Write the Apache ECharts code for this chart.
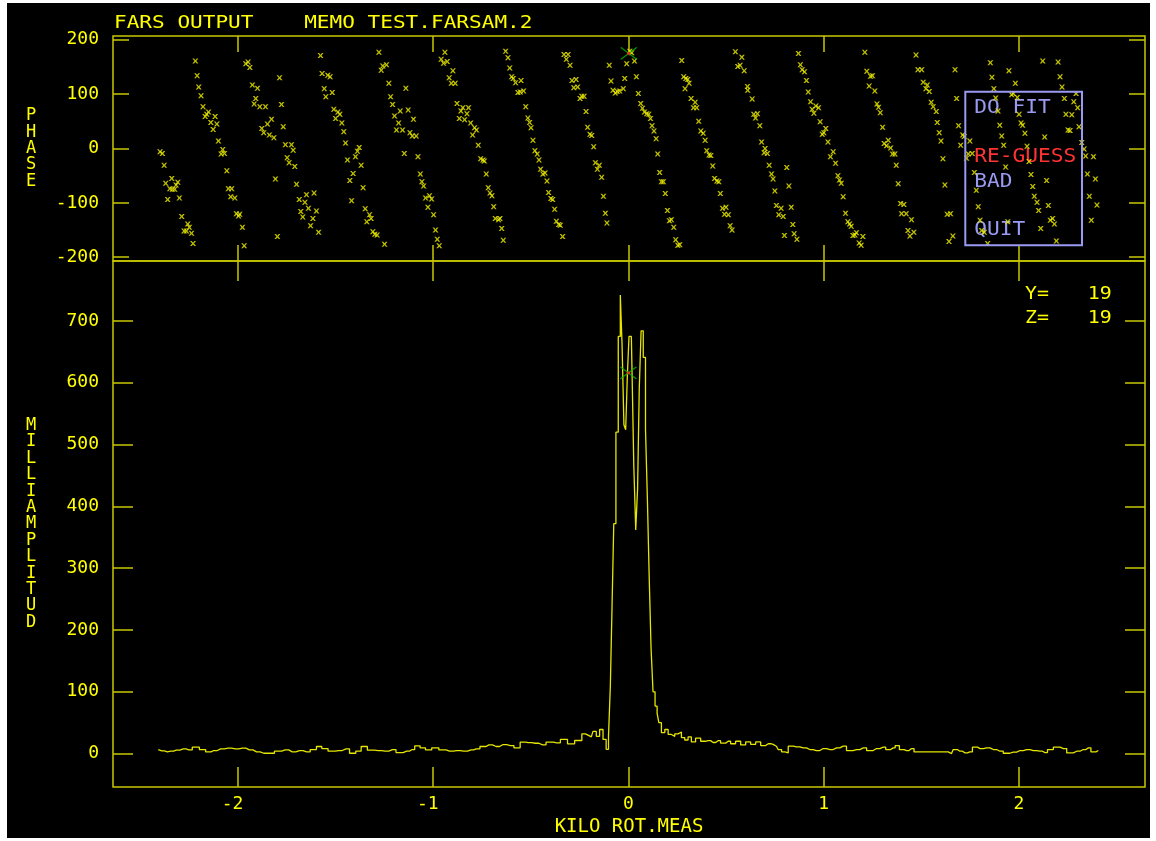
<!DOCTYPE html>
<html><head><meta charset="utf-8">
<script src="https://cdn.jsdelivr.net/npm/echarts@6/dist/echarts.min.js"></script>
<style>
html,body{margin:0;padding:0;background:#fff;width:1156px;height:841px;overflow:hidden}
#c{position:absolute;left:7px;top:3px;width:1143px;height:835px;background:#000}
</style>
</head><body><div id="c"></div>
<script>
// ---------- data ----------
const kiloTicks = [-2, -1, 0, 1, 2];
const phaseTicks = [-200, -100, 0, 100, 200];
const ampTicks = [0, 100, 200, 300, 400, 500, 600, 700];
const kiloRange = [-2.64, 2.646];
const phaseRange = [-207, 207];
const ampRange = [-54, 797];

const titleText = 'FARS OUTPUT    MEMO TEST.FARSAM.2';
const xName = 'KILO ROT.MEAS';
const phaseName = 'PHASE';
const ampName = 'MILLIAMPLITUD';
const menuItems = ['DO FIT', 'RE-GUESS', 'BAD', 'QUIT'];
const readouts = [['Y=', '19'], ['Z=', '19']];

// guess markers [kilo, value]
const guessPhase = [[0.002, 175]];
const guessAmp = [[0.0, 616]];

// phase samples [kilo rot.meas, phase]
const phaseSamples = [
[-2.399,-6],[-2.387,-9],[-2.378,-31],[-2.339,-55],[-2.370,-64],[-2.308,-62],[-2.317,-67],[-2.349,-74],[-2.336,-75],[-2.324,-75],[-2.360,-94],[-2.300,-91],[-2.288,-125],[-2.257,-139],[-2.249,-145],[-2.276,-152],[-2.264,-152],[-2.238,-156],[-2.230,-175],
[-2.218,161],[-2.209,134],[-2.201,113],[-2.189,97],[-2.179,77],[-2.151,67],[-2.160,63],[-2.168,59],[-2.117,59],[-2.139,48],[-2.108,45],[-2.127,35],[-2.100,14],[-2.078,-2],[-2.086,-10],[-2.069,-9],[-2.057,-41],[-2.049,-74],[-2.032,-74],[-2.037,-89],[-2.016,-91],[-2.008,-120],[-1.991,-121],[-1.997,-124],[-1.977,-145],[-1.968,-179],
[-1.960,156],[-1.948,159],[-1.939,149],[-1.787,130],[-1.926,117],[-1.900,111],[-1.909,92],[-1.917,82],[-1.888,77],[-1.859,77],[-1.777,81],[-1.828,54],[-1.849,45],[-1.768,40],[-1.878,37],[-1.868,29],[-1.839,25],[-1.816,20],[-1.757,7],[-1.726,7],[-1.717,-3],[-1.748,-17],[-1.738,-26],[-1.709,-33],[-1.808,-56],[-1.700,-66],[-1.649,-85],[-1.610,-82],[-1.686,-94],[-1.657,-99],[-1.639,-110],[-1.598,-115],[-1.678,-116],[-1.668,-126],[-1.616,-129],[-1.628,-142],[-1.587,-154],[-1.798,-162],
[-1.577,171],[-1.569,138],[-1.540,135],[-1.528,132],[-1.558,110],[-1.550,95],[-1.517,103],[-1.509,72],[-1.488,67],[-1.478,63],[-1.500,55],[-1.468,47],[-1.458,31],[-1.449,10],[-1.379,2],[-1.388,-5],[-1.398,-15],[-1.439,-21],[-1.369,-31],[-1.410,-46],[-1.427,-59],[-1.359,-72],[-1.418,-96],[-1.348,-111],[-1.326,-122],[-1.318,-129],[-1.340,-135],[-1.309,-153],[-1.299,-158],[-1.287,-159],[-1.249,-176],
[-1.278,177],[-1.258,152],[-1.239,154],[-1.266,144],[-1.227,120],[-1.140,111],[-1.218,95],[-1.208,81],[-1.128,71],[-1.169,69],[-1.198,60],[-1.101,54],[-1.177,47],[-1.188,34],[-1.157,34],[-1.119,29],[-1.107,23],[-1.087,23],[-1.148,-9],[-1.078,-15],[-1.066,-47],[-1.058,-61],[-1.049,-69],[-1.019,-87],[-1.039,-91],[-1.008,-93],[-1.027,-108],[-0.998,-122],[-0.988,-150],[-0.979,-167],[-0.969,-179],
[-0.940,177],[-0.959,164],[-0.947,157],[-0.928,160],[-0.899,143],[-0.918,130],[-0.907,120],[-0.887,120],[-0.878,83],[-0.848,75],[-0.819,75],[-0.858,69],[-0.827,64],[-0.866,55],[-0.839,53],[-0.808,47],[-0.788,38],[-0.778,34],[-0.798,25],[-0.769,6],[-0.757,-19],[-0.745,-21],[-0.738,-23],[-0.728,-47],[-0.718,-72],[-0.709,-82],[-0.699,-87],[-0.690,-107],[-0.682,-129],[-0.665,-131],[-0.658,-129],[-0.649,-147],[-0.641,-169],
[-0.629,179],[-0.617,167],[-0.608,148],[-0.598,132],[-0.590,129],[-0.578,121],[-0.550,125],[-0.566,103],[-0.554,104],[-0.537,106],[-0.526,77],[-0.515,56],[-0.506,48],[-0.499,38],[-0.489,15],[-0.479,-4],[-0.467,-10],[-0.458,-21],[-0.450,-38],[-0.438,-47],[-0.427,-45],[-0.417,-60],[-0.409,-81],[-0.397,-92],[-0.388,-94],[-0.378,-112],[-0.369,-134],[-0.357,-140],[-0.349,-141],[-0.337,-162],
[-0.330,173],[-0.309,173],[-0.318,164],[-0.299,153],[-0.289,125],[-0.268,127],[-0.280,112],[-0.260,113],[-0.248,92],[-0.239,96],[-0.227,96],[-0.217,68],[-0.209,39],[-0.197,26],[-0.188,24],[-0.178,3],[-0.169,-26],[-0.149,-31],[-0.159,-38],[-0.137,-53],[-0.128,-88],[-0.118,-119],[-0.110,-137],
[-0.098,153],[-0.089,124],[-0.079,107],[-0.067,102],[-0.057,105],[-0.045,106],[-0.026,110],[-0.019,129],[-0.009,156],[0.007,179],[0.017,176],[0.031,161],[0.041,132],[0.051,101],[0.063,83],[0.072,74],[0.082,67],[0.094,64],[0.104,63],[0.113,55],[0.121,42],[0.131,32],[0.142,18],[0.150,-10],[0.160,-44],[0.169,-61],[0.179,-61],[0.189,-83],[0.200,-114],[0.210,-133],[0.220,-131],[0.232,-145],[0.242,-168],[0.253,-178],[0.263,-177],
[0.273,162],[0.283,132],[0.294,129],[0.304,127],[0.311,120],[0.290,110],[0.321,92],[0.342,85],[0.333,75],[0.350,75],[0.360,50],[0.371,32],[0.383,28],[0.393,15],[0.401,-4],[0.413,-12],[0.422,-13],[0.432,-32],[0.441,-55],[0.453,-60],[0.463,-61],[0.471,-83],[0.482,-110],[0.500,-108],[0.492,-121],[0.512,-122],[0.521,-142],[0.531,-150],
[0.548,178],[0.581,168],[0.560,151],[0.572,153],[0.593,143],[0.610,114],[0.611,107],[0.634,91],[0.642,63],[0.661,64],[0.651,56],[0.673,42],[0.682,12],[0.700,0],[0.695,-8],[0.712,-9],[0.721,-31],[0.733,-47],[0.741,-56],[0.750,-78],[0.758,-105],[0.782,-110],[0.770,-122],[0.793,-125],[0.811,-35],[0.822,-69],[0.834,-108],[0.842,-140],[0.849,-157],[0.863,-167],[0.799,-160],
[0.871,175],[0.881,154],[0.890,145],[0.902,141],[0.912,125],[0.921,104],[0.933,86],[0.960,78],[0.974,75],[0.941,72],[0.950,65],[0.982,49],[1.011,37],[1.001,29],[0.993,26],[1.022,12],[1.049,-6],[1.035,-15],[1.061,-27],[1.073,-50],[1.081,-58],[1.090,-64],[1.100,-89],[1.112,-119],[1.124,-135],[1.133,-139],[1.141,-143],[1.150,-160],[1.160,-159],[1.168,-155],[1.182,-174],[1.192,-178],[1.201,-162],
[1.211,177],[1.221,142],[1.240,133],[1.250,134],[1.233,115],[1.262,106],[1.273,82],[1.281,76],[1.290,66],[1.302,39],[1.331,15],[1.310,9],[1.322,5],[1.343,1],[1.353,-10],[1.365,-10],[1.372,-31],[1.382,-65],[1.394,-101],[1.411,-103],[1.399,-120],[1.423,-120],[1.450,-131],[1.432,-151],[1.462,-154],[1.442,-161],
[1.473,172],[1.483,145],[1.502,145],[1.510,122],[1.531,117],[1.524,110],[1.541,105],[1.551,85],[1.561,77],[1.577,68],[1.582,48],[1.592,29],[1.601,14],[1.611,-19],[1.621,-67],[1.633,-121],[1.650,-120],[1.642,-171],[1.662,-161],
[1.673,145],[1.681,92],[1.691,42],[1.702,6],[1.712,25],[1.720,22],[1.749,14],[1.741,-10],[1.761,-9],[1.732,-18],[1.772,-44],[1.782,-77],[1.792,-107],[1.801,-132],[1.809,-151],[1.823,-154],[1.840,-175],
[1.854,158],[1.862,131],[1.872,110],[1.881,93],[1.893,69],[1.902,43],[1.912,23],[1.922,6],[1.932,-34],[1.943,-135],[1.949,143],[1.982,120],[1.963,99],[1.972,101],[1.992,94],[2.001,63],[2.011,47],[2.019,43],[2.031,28],[2.042,4],[2.052,-24],[2.062,-48],[2.071,-70],[2.079,-88],[2.093,-99],[2.101,-114],[2.112,-147],
[2.122,161],[2.132,21],[2.142,-59],[2.151,-105],[2.161,-132],[2.173,-129],[2.182,-139],[2.192,-170],[2.201,159],[2.211,132],[2.221,113],[2.233,92],[2.241,63],[2.252,34],[2.262,33],[2.271,62],[2.281,86],[2.293,101],[2.301,75],[2.308,40],[2.322,11],[2.334,-1],[2.342,-14],[2.382,-15],[2.351,-47],[2.392,-56],[2.361,-88],[2.400,-104],[2.371,-132]
];

// amplitude samples [kilo rot.meas, milliamplitude]
const ampSamples = [
[-2.408,6.6],[-2.390,4.5],[-2.362,3],[-2.344,4],[-2.316,5.5],[-2.280,7.7],[-2.252,6],[-2.216,10.4],[-2.179,6.6],[-2.152,2.8],[-2.124,5],[-2.088,7.7],[-2.051,8.8],[-2.014,7.7],[-1.978,8.8],[-1.941,6],[-1.905,2.8],[-1.868,0.6],[-1.831,0.6],[-1.795,3.9],[-1.758,6],[-1.722,2.8],[-1.685,5],[-1.648,2.8],[-1.612,6.6],[-1.584,11.5],[-1.557,8.2],[-1.520,3.9],[-1.484,5],[-1.447,7.7],[-1.410,0.6],[-1.383,3.9],[-1.355,11.5],[-1.319,5.5],[-1.282,5],[-1.246,3.9],[-1.209,6.6],[-1.172,1.7],[-1.136,3.9],[-1.108,6.6],[-1.081,12.6],[-1.053,9.3],[-1.026,6],[-0.989,9.3],[-0.953,6],[-0.916,3.9],[-0.880,5],[-0.843,3.9],[-0.806,6],[-0.779,7.7],[-0.742,11.5],[-0.715,14.2],[-0.678,11.5],[-0.642,14.7],[-0.605,13.1],[-0.568,9.3],[-0.541,18.5],[-0.513,17.9],[-0.477,16.8],[-0.440,14.2],[-0.404,18.5],[-0.367,17.4],[-0.330,22.9],[-0.294,15.8],[-0.257,21.2],
[-0.220,32],[-0.207,30],[-0.190,27],[-0.173,36],[-0.156,28],[-0.139,39],[-0.121,23],[-0.107,7],[-0.097,28],[-0.088,110],[-0.080,236],[-0.070,372],[-0.058,520],[-0.046,675],[-0.037,742],[-0.028,661],[-0.018,532],[-0.010,524],[-0.001,611],[0.007,675],[0.015,675],[0.023,610],[0.032,467],[0.043,362],[0.051,429],[0.060,590],[0.070,684],[0.082,641],[0.093,525],[0.102,408],[0.111,285],[0.121,171],[0.131,100],[0.142,77],[0.152,65],
[0.160,50],[0.178,34],[0.195,39],[0.212,31],[0.229,28],[0.246,32],[0.263,35],[0.280,26],[0.297,22],[0.314,27],[0.331,19],[0.357,25],[0.383,20],[0.408,21],[0.434,18],[0.459,21],[0.485,17],[0.511,20],[0.536,16],[0.562,20],[0.588,14],[0.613,19],[0.639,15],[0.665,19],[0.690,13],[0.716,16],[0.741,15],[0.758,12],[0.776,6.6],[0.793,2.8],[0.810,1.2],[0.827,12],[0.861,11],[0.895,9.3],[0.929,6.6],[0.963,5],[0.998,8.2],[1.032,6.6],[1.066,9.3],[1.100,12],[1.134,5],[1.168,6.6],[1.203,9.3],[1.237,5],[1.271,8.2],[1.305,10.4],[1.331,6.6],[1.356,9.3],[1.377,13],[1.399,6.6],[1.425,5],[1.450,8.2],[1.476,2.8],[1.638,2.8],[1.655,0.1],[1.672,6.6],[1.698,3.9],[1.724,1.2],[1.749,2.8],[1.775,10.4],[1.801,8.2],[1.835,9.3],[1.869,6.6],[1.903,3.9],[1.937,0.6],[1.971,2.3],[2.006,5],[2.040,6.6],[2.074,5],[2.108,3.9],[2.134,1.7],[2.159,6.6],[2.194,10.4],[2.228,8.2],[2.262,1.2],[2.296,3.9],[2.330,6.6],[2.356,9.3],[2.382,2.8],[2.407,5]
];

// ---------- style ----------
const FONT = '"DejaVu Sans Mono", "Liberation Mono", monospace';
const TXT = '#ffff00';
const FRAME = '#c8c800';
const LAV = '#9a9af2';

const chart = echarts.init(document.getElementById('c'), null, {renderer: 'canvas'});

function xAx(grid, pos, labels, tickLen) {
  const a = {
    type: 'value', gridIndex: grid, position: pos,
    min: kiloRange[0], max: kiloRange[1],
    axisLine: {show: false, onZero: false},
    splitLine: {show: false},
    axisTick: {show: true, inside: true, length: tickLen, customValues: kiloTicks,
               lineStyle: {color: FRAME, width: 1.5}},
    axisLabel: {show: labels, customValues: kiloTicks, margin: 8, color: TXT,
                fontFamily: FONT, fontSize: 18,
                formatter: v => (v < 0 ? v + ' ' : '' + v)}
  };
  if (labels) {
    a.name = xName; a.nameLocation = 'middle'; a.nameGap = 27;
    a.nameTextStyle = {color: TXT, fontFamily: FONT, fontSize: 19};
  }
  return a;
}
function yAx(grid, pos, range, ticks, labels, tickLen, name) {
  const a = {
    type: 'value', gridIndex: grid, position: pos,
    min: range[0], max: range[1],
    axisLine: {show: false, onZero: false},
    splitLine: {show: false},
    axisTick: {show: true, inside: true, length: tickLen, customValues: ticks,
               lineStyle: {color: FRAME, width: 1.5}},
    axisLabel: {show: labels, customValues: ticks, margin: 14, color: TXT,
                fontFamily: FONT, fontSize: 18}
  };
  if (name) {
    a.name = name.split('').join('\n');
    a.nameLocation = 'middle'; a.nameRotate = 0; a.nameGap = 82;
    a.nameTextStyle = {color: TXT, fontFamily: FONT, fontSize: 17, lineHeight: 16.4,
                       align: 'center', verticalAlign: 'middle'};
  }
  return a;
}

const xMark = 'path://M0,0L1.4,0L2.5,1.3L3.6,0L5,0L3.3,2L5,4L3.6,4L2.5,2.7L1.4,4L0,4L1.7,2Z';
const guessMark = 'path://M0,0L16,12M16,0L0,12';

function txt(text, x, y, fill, size, sx, align) {
  return {
    type: 'text', x: x, y: y, scaleX: sx, silent: true,
    style: {text: text, fill: fill, font: size + 'px ' + FONT,
            align: align || 'left', verticalAlign: 'middle',
            textAlign: align || 'left', textVerticalAlign: 'middle'}
  };
}

const menuY = [105.3, 154.3, 179, 227.3];
const graphics = [
  txt(titleText, 107, 20, TXT, 18, 1.17),
  {type: 'rect', silent: true, z: 10, shape: {x: 958.3, y: 88.7, width: 116.7, height: 153.6},
   style: {fill: 'none', stroke: LAV, lineWidth: 2}},
];
menuItems.forEach((m, i) => graphics.push(
  txt(m, 967.3, menuY[i], m === 'RE-GUESS' ? '#ff3333' : LAV, 19, 1.115)));
readouts.forEach((r, i) => {
  graphics.push(txt(r[0], 1018, 291.5 + i * 23.8, TXT, 17, 1.17));
  graphics.push(txt(r[1], 1104.7, 291.5 + i * 23.8, TXT, 17, 1.17, 'right'));
});

chart.setOption({
  animation: false,
  backgroundColor: '#000',
  grid: [
    {left: 106, top: 33, width: 1032, height: 225, show: true, outerBoundsMode: 'none', containLabel: false,
     borderColor: FRAME, borderWidth: 1.5, backgroundColor: 'transparent'},
    {left: 106, top: 258, width: 1032, height: 526, show: true, outerBoundsMode: 'none', containLabel: false,
     borderColor: FRAME, borderWidth: 1.5, backgroundColor: 'transparent'}
  ],
  xAxis: [
    xAx(0, 'bottom', false, 16),
    xAx(0, 'top', false, 16),
    xAx(1, 'bottom', true, 20),
    xAx(1, 'top', false, 20)
  ],
  yAxis: [
    yAx(0, 'left', phaseRange, phaseTicks, true, 16, phaseName),
    yAx(0, 'right', phaseRange, phaseTicks, false, 16),
    yAx(1, 'left', ampRange, ampTicks, true, 20, ampName),
    yAx(1, 'right', ampRange, ampTicks, false, 20)
  ],
  graphic: graphics,
  series: [
    {type: 'scatter', xAxisIndex: 0, yAxisIndex: 0, data: phaseSamples,
     symbol: xMark, symbolSize: [6, 5], silent: true,
     itemStyle: {color: '#eeee00'}},
    {type: 'line', xAxisIndex: 2, yAxisIndex: 2, data: ampSamples,
     step: 'middle', showSymbol: false, silent: true,
     lineStyle: {color: '#e6e600', width: 1.3}},
    {type: 'scatter', xAxisIndex: 0, yAxisIndex: 0, data: guessPhase, z: 5,
     symbol: guessMark, symbolSize: [16, 12], silent: true,
     itemStyle: {color: 'none', borderColor: '#00c000', borderWidth: 1.3}},
    {type: 'scatter', xAxisIndex: 2, yAxisIndex: 2, data: guessAmp, z: 5,
     symbol: guessMark, symbolSize: [16, 12], silent: true,
     itemStyle: {color: 'none', borderColor: '#00c000', borderWidth: 1.3}},
    {type: 'scatter', xAxisIndex: 0, yAxisIndex: 0, data: guessPhase, z: 6,
     symbol: 'rect', symbolSize: 3, silent: true, itemStyle: {color: '#ff2020'}},
    {type: 'scatter', xAxisIndex: 2, yAxisIndex: 2, data: guessAmp, z: 6,
     symbol: 'rect', symbolSize: 3, silent: true, itemStyle: {color: '#ff2020'}}
  ]
});
</script>
</body></html>
